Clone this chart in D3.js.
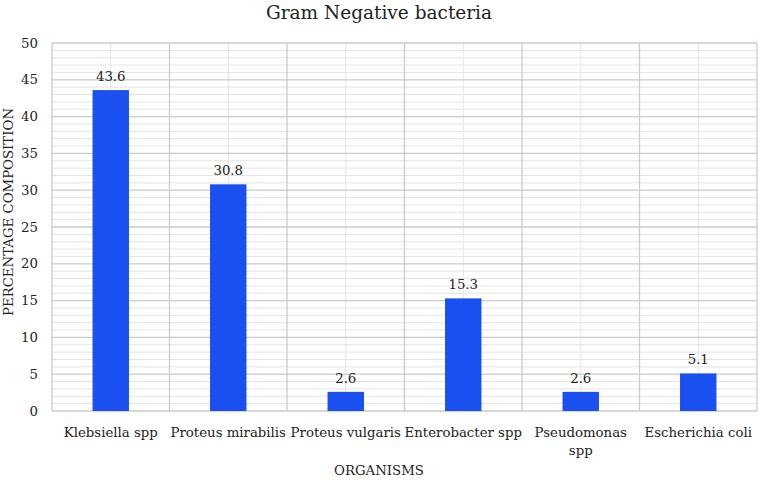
<!DOCTYPE html>
<html>
<head>
<meta charset="utf-8">
<script src="https://cdn.jsdelivr.net/npm/d3@7"></script>
<style>
  body { margin: 0; background: #fff; }
  svg { display: block; font-family: "DejaVu Serif", "Liberation Serif", serif; }
</style>
</head>
<body>
<svg width="758" height="480"></svg>
<script>
// Data
const organisms = ["Klebsiella spp", "Proteus mirabilis", "Proteus vulgaris", "Enterobacter spp", "Pseudomonas spp", "Escherichia coli"];
const percentages = [43.6, 30.8, 2.6, 15.3, 2.6, 5.1];
const yTicks = [0, 5, 10, 15, 20, 25, 30, 35, 40, 45, 50];

const svg = d3.select("svg"),
    margin = { top: 43, right: 1, bottom: 69, left: 52 },
    width = +svg.attr("width") - margin.left - margin.right,
    height = +svg.attr("height") - margin.top - margin.bottom,
    g = svg.append("g").attr("transform", `translate(${margin.left},${margin.top})`);

// Scales
const x = d3.scaleBand().domain(organisms).range([0, width]).paddingInner(0).paddingOuter(0);
const y = d3.scaleLinear().domain([0, 50]).range([height, 0]);

// Minor horizontal gridlines (every 1)
g.append("g").selectAll("line")
    .data(d3.range(0, 51).filter(v => v % 5 !== 0))
    .enter().append("line")
    .attr("x1", 0).attr("x2", width)
    .attr("y1", d => y(d)).attr("y2", d => y(d))
    .attr("stroke", "#e4e4e4").attr("stroke-width", 1);

// Minor vertical gridlines at category centers
g.append("g").selectAll("line")
    .data(organisms)
    .enter().append("line")
    .attr("x1", d => x(d) + x.bandwidth() / 2).attr("x2", d => x(d) + x.bandwidth() / 2)
    .attr("y1", 0).attr("y2", height)
    .attr("stroke", "#e4e4e4").attr("stroke-width", 1);

// Major horizontal gridlines
g.append("g").selectAll("line")
    .data(yTicks)
    .enter().append("line")
    .attr("x1", 0).attr("x2", width)
    .attr("y1", d => y(d)).attr("y2", d => y(d))
    .attr("stroke", "#c6cdca").attr("stroke-width", 1.3);

// Major vertical gridlines at category boundaries
g.append("g").selectAll("line")
    .data(organisms.map(d => x(d)).concat([width]))
    .enter().append("line")
    .attr("x1", d => d).attr("x2", d => d)
    .attr("y1", 0).attr("y2", height)
    .attr("stroke", "#c6cdca").attr("stroke-width", 1.3);

// Bars
const barW = x.bandwidth() * 0.31;
g.selectAll("rect.bar")
    .data(organisms)
    .enter().append("rect")
    .attr("class", "bar")
    .attr("x", d => x(d) + (x.bandwidth() - barW) / 2)
    .attr("y", (d, i) => y(percentages[i]))
    .attr("width", barW)
    .attr("height", (d, i) => height - y(percentages[i]))
    .attr("fill", "#1a4ff0");

// Value labels
g.selectAll("text.val")
    .data(organisms)
    .enter().append("text")
    .attr("class", "val")
    .attr("x", d => x(d) + x.bandwidth() / 2)
    .attr("y", (d, i) => y(percentages[i]) - 9)
    .attr("text-anchor", "middle")
    .attr("font-size", "13.3px")
    .attr("fill", "#222")
    .text((d, i) => percentages[i]);

// Y axis tick labels
g.append("g").selectAll("text")
    .data(yTicks)
    .enter().append("text")
    .attr("x", -14)
    .attr("y", d => y(d))
    .attr("dy", "0.35em")
    .attr("text-anchor", "end")
    .attr("font-size", "13.3px")
    .attr("fill", "#222")
    .text(d => d);

// X axis category labels (wrap long ones)
const xLabels = g.append("g").selectAll("text")
    .data(organisms)
    .enter().append("text")
    .attr("x", d => x(d) + x.bandwidth() / 2)
    .attr("y", height + 26)
    .attr("text-anchor", "middle")
    .attr("font-size", "13.3px")
    .attr("fill", "#222");
xLabels.each(function (d) {
    const lines = d === "Pseudomonas spp" ? ["Pseudomonas", "spp"] : [d];
    const t = d3.select(this);
    lines.forEach((l, i) => {
        t.append("tspan").attr("x", x(d) + x.bandwidth() / 2).attr("dy", i === 0 ? 0 : "1.35em").text(l);
    });
});

// Title
svg.append("text")
    .attr("x", 379).attr("y", 19)
    .attr("text-anchor", "middle")
    .attr("font-size", "18.5px")
    .attr("fill", "#222")
    .text("Gram Negative bacteria");

// Axis titles
svg.append("text")
    .attr("x", 379).attr("y", 475)
    .attr("text-anchor", "middle")
    .attr("font-size", "13.3px")
    .attr("fill", "#222")
    .text("ORGANISMS");

svg.append("text")
    .attr("transform", "rotate(-90)")
    .attr("x", -212).attr("y", 13)
    .attr("text-anchor", "middle")
    .attr("font-size", "13.3px")
    .attr("fill", "#222")
    .text("PERCENTAGE COMPOSITION");
</script>
</body>
</html>
